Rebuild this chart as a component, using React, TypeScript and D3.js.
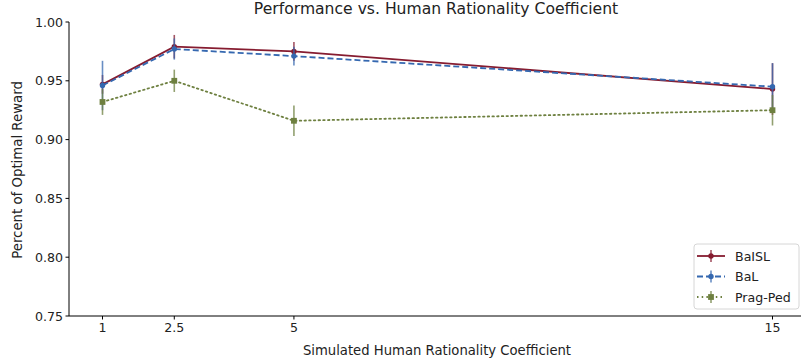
import React from 'react';
import * as d3 from 'd3';

// rationality coefficients on the x axis
const coefs = [1, 2.5, 5, 15];
const xTicks = [1, 2.5, 5, 15];
const xTickLabels = ['1', '2.5', '5', '15'];
const yTicks = [0.75, 0.8, 0.85, 0.9, 0.95, 1.0];

const baislMean = [0.947, 0.979, 0.975, 0.943];
const baislErr = [0.008, 0.01, 0.008, 0.022];
const balMean = [0.946, 0.977, 0.971, 0.945];
const balErr = [0.021, 0.009, 0.008, 0.02];
const pragMean = [0.932, 0.95, 0.916, 0.925];
const pragErr = [0.011, 0.0095, 0.013, 0.013];

const seriesNames = ['BaISL', 'BaL', 'Prag-Ped'];

const W = 801;
const H = 362;
const margin = { top: 22, right: -5, bottom: 46, left: 69 };

const FONT = 'DejaVu Sans, sans-serif';

export default function App() {
  const iw = W - margin.left - margin.right;
  const ih = H - margin.top - margin.bottom;

  const x = d3.scaleLinear().domain([0.3, 15.7]).range([0, iw]);
  const y = d3.scaleLinear().domain([0.75, 1.0]).range([ih, 0]);

  const line = d3.line<number>()
    .x((_, i) => x(coefs[i]))
    .y(d => y(d));

  const series = [
    { name: seriesNames[0], mean: baislMean, err: baislErr, color: '#861c30', dash: '', marker: 'circle' },
    { name: seriesNames[1], mean: balMean, err: balErr, color: '#3568b0', dash: '6,3', marker: 'circle' },
    { name: seriesNames[2], mean: pragMean, err: pragErr, color: '#6e8040', dash: '1.5,3.2', marker: 'square' },
  ];

  const drawMarker = (s: any, cx: number, cy: number, key: string) =>
    s.marker === 'circle'
      ? <circle key={key} cx={cx} cy={cy} r={2.7} fill={s.color} />
      : <rect key={key} x={cx - 2.9} y={cy - 2.9} width={5.8} height={5.8} fill={s.color} />;

  return (
    <div style={{ position: 'fixed', left: 0, top: 0, width: W, height: H, overflow: 'hidden', background: '#fff' }}>
      <svg width={W} height={H} style={{ display: 'block' }} fontFamily={FONT}>
        <g transform={`translate(${margin.left},${margin.top})`}>
          {series.map(s => (
            <g key={s.name}>
              {s.mean.map((m, i) => (
                <line key={'e' + i} x1={x(coefs[i])} x2={x(coefs[i])}
                  y1={y(m - s.err[i])} y2={y(m + s.err[i])}
                  stroke={s.color} strokeWidth={1.6} strokeOpacity={0.75} />
              ))}
              <path d={line(s.mean) || ''} fill="none" stroke={s.color} strokeWidth={1.8}
                strokeDasharray={s.dash} strokeLinecap={s.marker === 'square' ? 'round' : 'butt'} />
              {s.mean.map((m, i) => drawMarker(s, x(coefs[i]), y(m), 'm' + i))}
            </g>
          ))}

          {/* spines: left and bottom only */}
          <line x1={0} x2={0} y1={0} y2={ih} stroke="#000" strokeWidth={1} />
          <line x1={0} x2={W - margin.left} y1={ih} y2={ih} stroke="#000" strokeWidth={1} />

          {yTicks.map(t => (
            <g key={t} transform={`translate(0,${y(t)})`}>
              <line x1={-3.5} x2={0} stroke="#000" />
              <text x={-6} dy="0.36em" textAnchor="end" fontSize={12.6} fill="#222">{t.toFixed(2)}</text>
            </g>
          ))}
          {xTicks.map((t, i) => (
            <g key={t} transform={`translate(${x(t)},${ih})`}>
              <line y1={0} y2={3.5} stroke="#000" />
              <text y={16} textAnchor="middle" fontSize={12.6} fill="#222">{xTickLabels[i]}</text>
            </g>
          ))}

          <text x={437 - margin.left} y={ih + 39} textAnchor="middle" fontSize={13.2} fill="#222">
            Simulated Human Rationality Coefficient
          </text>
          <text transform={`translate(${17 - margin.left},${ih / 2 + 1}) rotate(-90)`} textAnchor="middle" dy="0.35em"
            fontSize={13.3} fill="#222">
            Percent of Optimal Reward
          </text>
          <text x={436 - margin.left} y={-8} textAnchor="middle" fontSize={15.6} fill="#222">
            Performance vs. Human Rationality Coefficient
          </text>
        </g>

        {/* legend */}
        <g transform="translate(694,244)">
          <rect x={0} y={0} width={105} height={65} rx={3} fill="#fff" fillOpacity={0.85} stroke="#d6d6d6" />
          {series.map((s, i) => {
            const ly = 12 + i * 20.5;
            return (
              <g key={s.name}>
                <line x1={3} x2={31} y1={ly} y2={ly} stroke={s.color} strokeWidth={1.8} strokeDasharray={s.dash} />
                <line x1={17} x2={17} y1={ly - 6} y2={ly + 6} stroke={s.color} strokeWidth={1.6} strokeOpacity={0.75} />
                {drawMarker(s, 17, ly, 'lm')}
                <text x={41} y={ly} dy="0.36em" fontSize={12.6} fill="#222">{s.name}</text>
              </g>
            );
          })}
        </g>
      </svg>
    </div>
  );
}
